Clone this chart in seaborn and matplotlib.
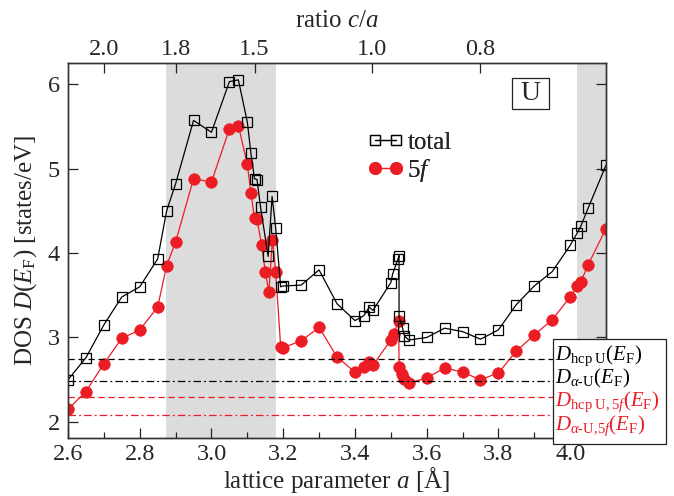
import matplotlib
matplotlib.use("Agg")
import matplotlib.pyplot as plt
import seaborn as sns
import pandas as pd
from matplotlib.lines import Line2D
from matplotlib.patches import Rectangle
from matplotlib.ticker import MultipleLocator

# ---------------- data ----------------
a_total = [2.60, 2.65, 2.70, 2.75, 2.80, 2.85, 2.875, 2.90, 2.95, 3.00, 3.05, 3.075,
           3.10, 3.11, 3.12, 3.127, 3.137, 3.158, 3.169, 3.179, 3.193, 3.20, 3.25,
           3.30, 3.35, 3.40, 3.425, 3.44, 3.45, 3.50, 3.505, 3.52, 3.523, 3.523,
           3.533, 3.538, 3.55, 3.60, 3.65, 3.70, 3.75, 3.80, 3.85, 3.90, 3.95,
           4.00, 4.02, 4.03, 4.05, 4.10]
dos_total = [2.50, 2.76, 3.15, 3.48, 3.60, 3.93, 4.50, 4.82, 5.57, 5.43, 6.03, 6.05,
             5.55, 5.18, 4.88, 4.87, 4.54, 3.96, 4.67, 4.30, 3.60, 3.61, 3.62,
             3.80, 3.40, 3.20, 3.26, 3.36, 3.32, 3.65, 3.75, 3.93, 3.97, 3.25,
             3.11, 3.02, 2.97, 3.00, 3.11, 3.07, 2.98, 3.09, 3.39, 3.61, 3.78,
             4.09, 4.24, 4.32, 4.53, 5.04]

a_5f = [2.60, 2.65, 2.70, 2.75, 2.80, 2.85, 2.875, 2.90, 2.95, 3.00, 3.05, 3.075,
        3.10, 3.11, 3.12, 3.127, 3.14, 3.15, 3.16, 3.17, 3.179, 3.193, 3.20, 3.25,
        3.30, 3.35, 3.40, 3.425, 3.44, 3.45, 3.50, 3.508, 3.522, 3.523, 3.53,
        3.537, 3.55, 3.60, 3.65, 3.70, 3.75, 3.80, 3.85, 3.90, 3.95, 4.00, 4.02,
        4.03, 4.05, 4.10]
dos_5f = [2.15, 2.36, 2.69, 2.99, 3.09, 3.36, 3.85, 4.13, 4.88, 4.84, 5.47, 5.51,
          5.05, 4.71, 4.41, 4.40, 4.09, 3.78, 3.54, 4.16, 3.78, 2.89, 2.88, 2.96,
          3.12, 2.77, 2.59, 2.65, 2.71, 2.67, 2.97, 3.04, 3.20, 2.65, 2.57,
          2.51, 2.46, 2.52, 2.64, 2.59, 2.50, 2.58, 2.84, 3.03, 3.21, 3.48, 3.61,
          3.66, 3.86, 4.29]

ref_levels = [2.75, 2.49, 2.29, 2.08]
ref_labels = [r"$D_{\mathrm{hcp\ U}}(E_{\mathrm{F}})$",
              r"$D_{\alpha\text{-U}}(E_{\mathrm{F}})$",
              r"$D_{\mathrm{hcp\ U,5}\mathit{f}}(E_{\mathrm{F}})$",
              r"$D_{\alpha\text{-U,5}\mathit{f}}(E_{\mathrm{F}})$"]

shade_spans = [(2.873, 3.179), (4.019, 4.10)]

ca_positions = [2.70, 2.90, 3.12, 3.447, 3.748]
ca_labels = ["2.0", "1.8", "1.5", "1.0", "0.8"]

series_labels = ["total", r"5$\mathit{f}$"]

# ---------------- style ----------------
RED = "#ec1c24"
sns.set_theme(style="ticks")
plt.rcParams["font.family"] = ["Liberation Serif", "DejaVu Serif"]
plt.rcParams["mathtext.fontset"] = "custom"
plt.rcParams["mathtext.rm"] = "Liberation Serif"
plt.rcParams["mathtext.it"] = "Liberation Serif:italic"
plt.rcParams["mathtext.bf"] = "Liberation Serif:bold"
plt.rcParams["axes.edgecolor"] = "#333333"
plt.rcParams["axes.linewidth"] = 1.0

fig = plt.figure(figsize=(6.74, 4.96), dpi=100)
ax = fig.add_axes([68 / 674, 1 - 438 / 496, 538 / 674, 375 / 496])

for x0, x1 in shade_spans:
    ax.axvspan(x0, x1, color="#dcdcdc", lw=0, zorder=0)

df_tot = pd.DataFrame({"a": a_total, "dos": dos_total})
df_5f = pd.DataFrame({"a": a_5f, "dos": dos_5f})

sns.lineplot(data=df_tot, x="a", y="dos", sort=False, estimator=None, ax=ax,
             color="black", lw=0.9, marker="s", markersize=7,
             markerfacecolor="none", markeredgecolor="black",
             markeredgewidth=0.9, zorder=3)
sns.lineplot(data=df_5f, x="a", y="dos", sort=False, estimator=None, ax=ax,
             color=RED, lw=0.9, marker="o", markersize=8.3,
             markerfacecolor=RED, markeredgecolor=RED,
             markeredgewidth=0.5, zorder=2)

ref_colors = ["black", "black", RED, RED]
ref_styles = [(0, (5, 3)), (0, (6, 2.5, 1.5, 2.5)), (0, (5, 3)), (0, (6, 2.5, 1.5, 2.5))]
for lvl, c, ls in zip(ref_levels, ref_colors, ref_styles):
    ax.axhline(lvl, color=c, ls=ls, lw=0.9, zorder=4)

ax.set_xlim(2.6, 4.1)
ax.set_ylim(1.81, 6.25)
ax.xaxis.set_minor_locator(MultipleLocator(0.1))
ax.yaxis.set_minor_locator(MultipleLocator(0.5))
ax.set_xticks([2.6, 2.8, 3.0, 3.2, 3.4, 3.6, 3.8, 4.0])
ax.set_xticklabels(["2.6", "2.8", "3.0", "3.2", "3.4", "3.6", "3.8", "4.0"])
ax.set_yticks([2, 3, 4, 5, 6])
ax.tick_params(which="major", direction="in", length=7.5, width=0.9,
               labelsize=17.5, top=False, right=True, pad=6, color="#222222")
ax.tick_params(axis="x", which="major", pad=4)
ax.tick_params(which="minor", direction="in", length=4, width=0.9,
               top=False, right=True, color="#222222")
ax.set_xlabel(r"lattice parameter $a$ [Å]", fontsize=18, labelpad=0)
ax.set_ylabel(r"DOS $D(E_{\mathrm{F}})$ [states/eV]", fontsize=18, labelpad=6)

ax2 = ax.twiny()
ax2.set_xlim(ax.get_xlim())
ax2.set_xticks(ca_positions)
ax2.set_xticklabels(ca_labels)
ax2.tick_params(which="major", direction="in", length=7.5, width=0.9,
                labelsize=17.5, pad=2, color="#222222")
ax2.minorticks_off()
ax2.set_xlabel(r"ratio $c/a$", fontsize=18, labelpad=9)

# series legend
handles = [Line2D([], [], color="black", lw=0.9, marker="s", markersize=7,
                  markerfacecolor="none", markeredgecolor="black", markeredgewidth=0.9),
           Line2D([], [], color=RED, lw=0.9, marker="o", markersize=8.3,
                  markerfacecolor=RED, markeredgecolor=RED)]
leg = ax.legend(handles, series_labels, loc="center left",
                bbox_to_anchor=((367.5 - 68) / 538, (438 - 157.5) / 375),
                frameon=False, fontsize=18, numpoints=2, handlelength=1.44,
                handletextpad=0.15, labelspacing=0.1, borderpad=0, borderaxespad=0)
ax.add_artist(leg)

# "U" label box
fig.patches.append(Rectangle((511.5 / 674, 1 - 108.7 / 496), 37.8 / 674, 30.7 / 496,
                             transform=fig.transFigure, facecolor="white",
                             edgecolor="#222222", lw=0.9, zorder=10))
fig.text(530.5 / 674, 1 - 93.5 / 496, "U", fontsize=20, ha="center", va="center",
         zorder=11)

# reference-level legend box
fig.patches.append(Rectangle((553 / 674, 1 - 444 / 496), 113 / 674, 105 / 496,
                             transform=fig.transFigure, facecolor="white",
                             edgecolor="#222222", lw=0.9, zorder=10))
row_base = [360, 383, 406, 430]
for lab, c, yb in zip(ref_labels, ref_colors, row_base):
    fig.text(555 / 674, 1 - yb / 496, lab, fontsize=15, color=c,
             ha="left", va="baseline", zorder=11)

fig.savefig("out.png", dpi=100)
